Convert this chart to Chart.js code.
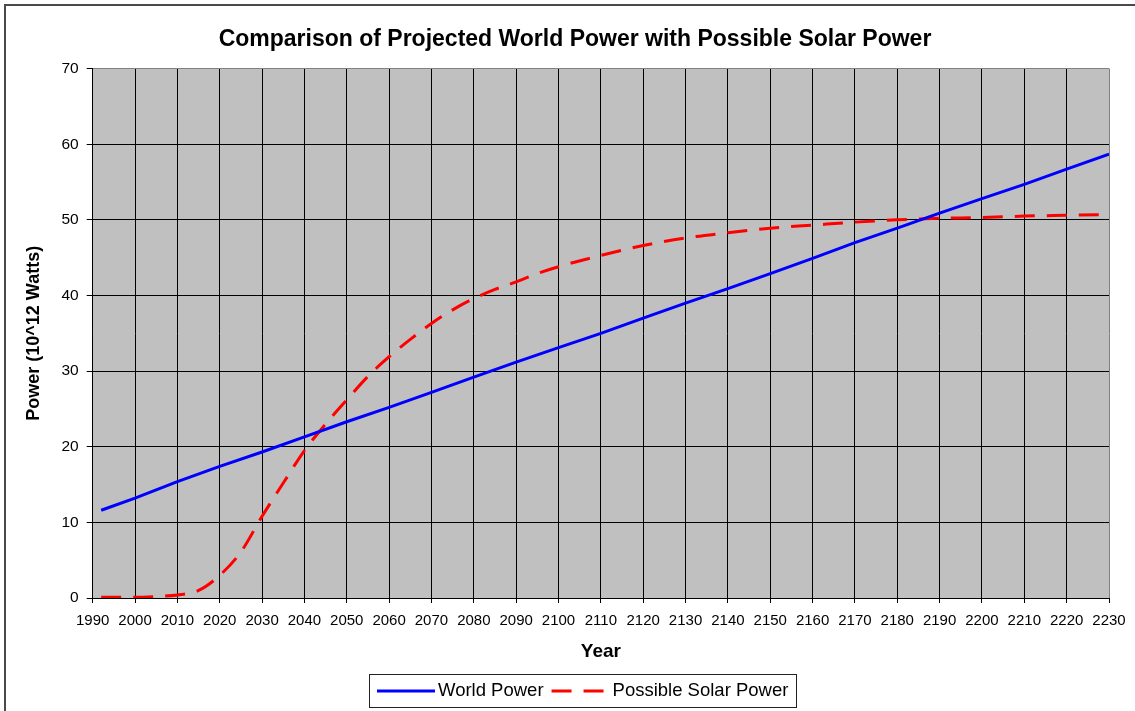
<!DOCTYPE html>
<html>
<head>
<meta charset="utf-8">
<title>World Power vs Solar Power</title>
<script src="https://cdn.jsdelivr.net/npm/chart.js@4.4.1/dist/chart.umd.min.js"></script>
<style>
  html, body { margin: 0; padding: 0; background: #fff; }
  canvas { display: block; }
</style>
</head>
<body>
<canvas id="powerChart" width="1135" height="711"></canvas>
<script>
// Projected world power demand, 10^12 W
const worldYears = [1992, 2000, 2010, 2020, 2030, 2040, 2050, 2060, 2070, 2080, 2090, 2100,
    2110, 2120, 2130, 2140, 2150, 2160, 2170, 2180, 2190, 2200, 2210, 2220, 2230];
const worldPower = [11.6, 13.2, 15.4, 17.4, 19.3, 21.3, 23.3, 25.2, 27.2, 29.2, 31.2, 33.1,
    35.0, 37.0, 39.0, 40.9, 42.9, 44.9, 47.0, 48.9, 50.9, 52.8, 54.7, 56.7, 58.7];

// Solar capacity that could be installed over the same period
const solarYears = [1992, 2000, 2005, 2010, 2015, 2020, 2025, 2030, 2035, 2040, 2045, 2050,
    2055, 2060, 2065, 2070, 2075, 2080, 2085, 2090, 2095, 2100, 2110, 2120, 2130, 2140,
    2150, 2160, 2170, 2180, 2190, 2200, 2210, 2220, 2230];
const solarPower = [0.1, 0.1, 0.2, 0.4, 1.0, 3.0, 6.1, 10.8, 15.2, 19.5, 23.0, 26.2,
    29.3, 31.9, 34.2, 36.3, 38.1, 39.6, 40.8, 41.8, 42.9, 43.8, 45.3, 46.6, 47.6, 48.3,
    48.9, 49.3, 49.7, 50.0, 50.2, 50.3, 50.5, 50.6, 50.7];

// axis ranges
const yearRange = [1990, 2230];
const powerRange = [0, 70];
const tickStep = 10;

const toPoints = (xs, ys) => xs.map((x, i) => ({ x, y: ys[i] }));

const FONT = "'Liberation Sans', Arial, sans-serif";

// white page, outer frame and grey plot area
const plotBackground = {
    id: 'plotBackground',
    beforeDraw(chart) {
        const { ctx, chartArea: a, width, height } = chart;
        ctx.save();
        ctx.fillStyle = '#fff';
        ctx.fillRect(0, 0, width, height);
        ctx.fillStyle = '#4a4a4a';
        ctx.fillRect(4, 4, width - 4, 2);
        ctx.fillRect(4, 4, 2, height - 4);
        ctx.fillStyle = '#c0c0c0';
        ctx.fillRect(a.left, a.top, a.right - a.left, a.bottom - a.top);
        ctx.restore();
    }
};

// nudge the title block so it sits over the middle of the page
const titleShift = {
    id: 'titleShift',
    afterLayout(chart, args, opts) {
        const t = chart.titleBlock;
        if (t) { t.left += opts.dx; t.right += opts.dx; }
    }
};

// legend in a framed box under the x axis
const boxedLegend = {
    id: 'boxedLegend',
    afterDraw(chart, args, opts) {
        const ctx = chart.ctx;
        const sets = chart.data.datasets;
        ctx.save();
        ctx.font = opts.font;
        const widths = sets.map(ds => ctx.measureText(ds.label).width);
        const inner = sets.reduce((s, ds, i) => s + opts.sample + opts.gap + widths[i], 0)
            + opts.spacing * (sets.length - 1);
        const boxW = Math.round(inner + opts.pad * 2);
        const left = Math.round(opts.centerX - boxW / 2);
        ctx.strokeStyle = '#222';
        ctx.lineWidth = 1;
        ctx.strokeRect(left + 0.5, opts.top + 0.5, boxW, opts.height);

        const y = opts.top + opts.height / 2 + 0.5;
        let x = left + opts.pad;
        sets.forEach((ds, i) => {
            ctx.beginPath();
            ctx.setLineDash(ds.borderDash || []);
            ctx.lineCap = 'butt';
            ctx.lineWidth = ds.borderWidth;
            ctx.strokeStyle = ds.borderColor;
            ctx.moveTo(x, y);
            ctx.lineTo(x + opts.sample, y);
            ctx.stroke();
            ctx.setLineDash([]);
            ctx.fillStyle = '#000';
            ctx.textBaseline = 'middle';
            ctx.textAlign = 'left';
            ctx.fillText(ds.label, x + opts.sample + opts.gap, y);
            x += opts.sample + opts.gap + widths[i] + opts.spacing;
        });
        ctx.restore();
    }
};

new Chart(document.getElementById('powerChart'), {
    type: 'line',
    data: {
        datasets: [{
            label: 'World Power',
            data: toPoints(worldYears, worldPower),
            borderColor: '#0000ff',
            borderWidth: 3,
            pointRadius: 0,
            tension: 0
        }, {
            label: 'Possible Solar Power',
            data: toPoints(solarYears, solarPower),
            borderColor: '#ff0000',
            borderWidth: 3,
            borderDash: [20, 12],
            borderCapStyle: 'butt',
            pointRadius: 0,
            cubicInterpolationMode: 'monotone'
        }]
    },
    options: {
        responsive: false,
        animation: false,
        devicePixelRatio: 1,
        layout: { padding: { left: 6, right: 26, top: 0, bottom: 37 } },
        scales: {
            x: {
                type: 'linear',
                min: yearRange[0],
                max: yearRange[1],
                afterFit: (scale) => { scale.height = 76; },
                ticks: {
                    stepSize: tickStep,
                    padding: 9,
                    color: '#000',
                    font: { family: FONT, size: 15 },
                    maxRotation: 0,
                    autoSkip: false,
                    callback: (v) => String(v)
                },
                grid: {
                    color: (c) => (c.tick && c.tick.value === yearRange[1] ? '#808080' : '#000'),
                    tickColor: '#000',
                    tickLength: 5,
                    lineWidth: 1
                },
                border: { color: '#000', width: 1 },
                title: {
                    display: true,
                    text: 'Year',
                    color: '#000',
                    font: { family: FONT, size: 19, weight: 'bold' },
                    padding: { top: 0, bottom: 11 }
                }
            },
            y: {
                min: powerRange[0],
                max: powerRange[1],
                afterFit: (scale) => { scale.width = 86.7; },
                ticks: {
                    stepSize: tickStep,
                    padding: 8,
                    color: '#000',
                    font: { family: FONT, size: 15.5 }
                },
                grid: {
                    color: (c) => (c.tick && c.tick.value === powerRange[1] ? '#808080' : '#000'),
                    tickColor: '#000',
                    tickLength: 6,
                    lineWidth: 1
                },
                border: { color: '#000', width: 1 },
                title: {
                    display: true,
                    text: 'Power (10^12 Watts)',
                    color: '#000',
                    font: { family: FONT, size: 18, weight: 'bold' },
                    padding: { top: 17, bottom: 0 }
                }
            }
        },
        plugins: {
            legend: { display: false },
            tooltip: { enabled: false },
            title: {
                display: true,
                text: 'Comparison of Projected World Power with Possible Solar Power',
                color: '#000',
                font: { family: FONT, size: 23, weight: 'bold' },
                padding: { top: 26, bottom: 15 }
            },
            titleShift: { dx: 17.5 },
            boxedLegend: {
                font: `18.5px ${FONT}`,
                top: 674,
                height: 33,
                centerX: 582.5,
                pad: 8,
                sample: 58,
                gap: 3,
                spacing: 8
            }
        }
    },
    plugins: [plotBackground, titleShift, boxedLegend]
});
</script>
</body>
</html>
